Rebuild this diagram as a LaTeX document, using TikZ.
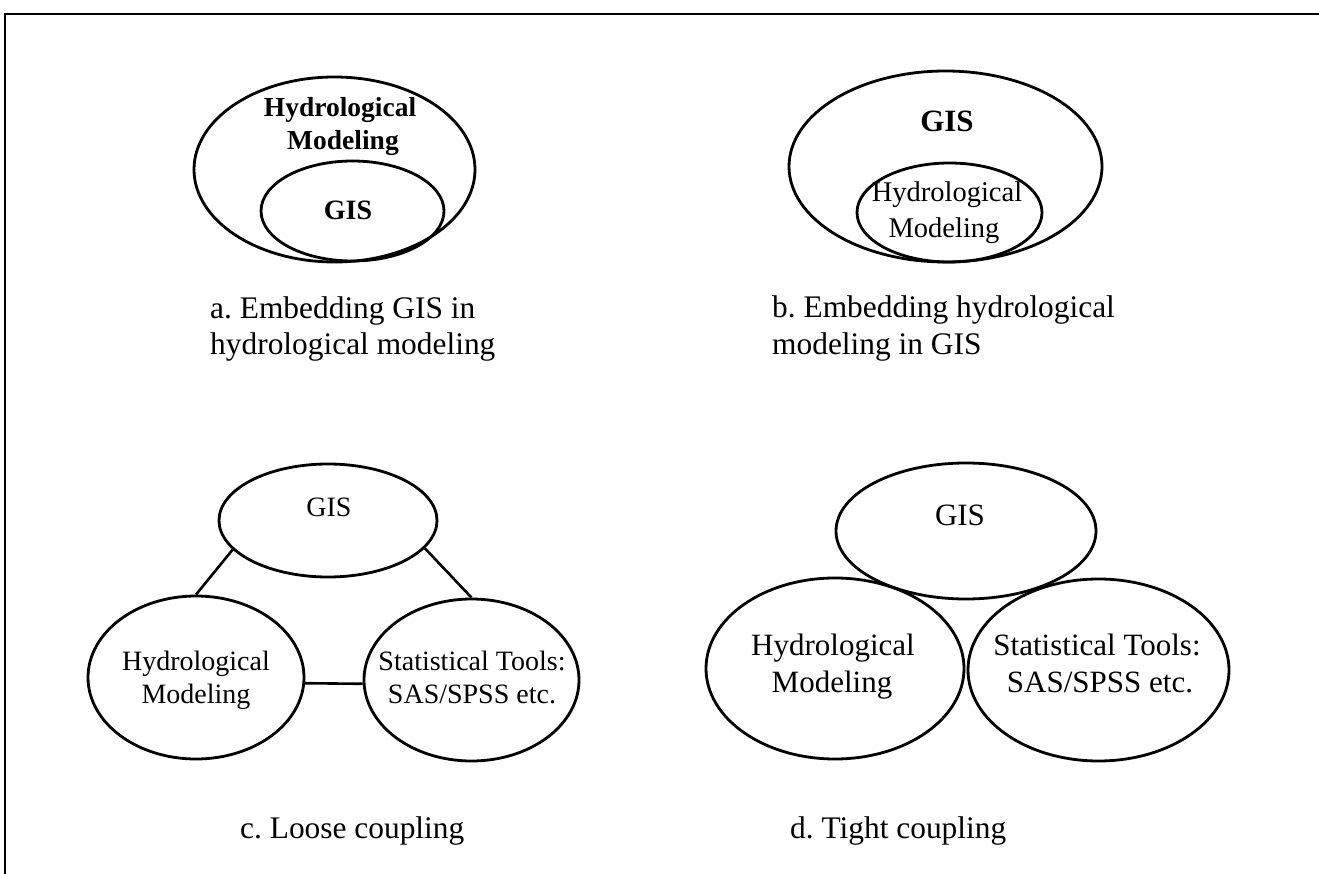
\documentclass[tikz,border=0pt]{standalone}
\usepackage{fontspec}
\setmainfont{Liberation Serif}
\usetikzlibrary{shapes.geometric}
\tikzset{
  ell/.style={draw, ellipse, line width=2.8pt, inner sep=0pt},
  txt/.style={font=\fontsize{28}{33}\selectfont, inner sep=0pt, anchor=base},
  bigtxt/.style={font=\fontsize{31}{36}\selectfont, inner sep=0pt, anchor=base},
  btxt/.style={font=\fontsize{27.5}{33}\selectfont\bfseries, inner sep=0pt, anchor=base},
  captext/.style={font=\fontsize{31.4}{36}\selectfont, inner sep=0pt, anchor=base west},
  link/.style={line width=2.6pt},
  frameline/.style={line width=2pt}
}
\begin{document}
\frenchspacing
\begin{tikzpicture}[x=1pt,y=-1pt]
\useasboundingbox[fill=white] (0,0) rectangle (1319,874);
% frame
\coordinate (fbl) at (5,874);
\coordinate (ftl) at (5,14);
\coordinate (ftr) at (1319,14);
\draw[frameline] (fbl) -- (ftl) -- (ftr);

% a
\node[ell, minimum width=281pt, minimum height=185pt] (aout) at (334.5,169.5) {};
\node[ell, minimum width=183pt, minimum height=100pt] (ain) at (352.5,211) {};
\node[btxt] (atxt1) at (340,117) {Hydrological};
\node[btxt] (atxt2) at (343,150) {Modeling};
\node[btxt, font=\fontsize{28}{33}\selectfont\bfseries] (agis) at (348,220) {GIS};
\node[captext] (acap1) at (210,319) {a. Embedding GIS in};
\node[captext] (acap2) at (210,354) {hydrological modeling};

% b
\node[ell, minimum width=313pt, minimum height=191pt] (bout) at (945.5,166.5) {};
\node[ell, minimum width=185pt, minimum height=99pt] (bin) at (949.5,212.5) {};
\node[btxt, font=\fontsize{31}{36}\selectfont\bfseries] (bgis) at (947,132) {GIS};
\node[txt, font=\fontsize{28.5}{33}\selectfont] (btxt1) at (947,202) {Hydrological};
\node[txt, font=\fontsize{28.5}{33}\selectfont] (btxt2) at (944,238) {Modeling};
\node[captext] (bcap1) at (772,318) {b. Embedding hydrological};
\node[captext] (bcap2) at (772,354) {modeling in GIS};

% c
\node[ell, minimum width=218pt, minimum height=113pt] (cgis) at (328,520.5) {};
\node[ell, minimum width=216pt, minimum height=163pt] (chyd) at (196,677.5) {};
\node[ell, minimum width=215pt, minimum height=162pt] (cstat) at (471.5,680) {};
\node[txt] (cgist) at (329,516) {GIS};
\node[txt] (chydt1) at (196,670) {Hydrological};
\node[txt] (chydt2) at (196,703) {Modeling};
\node[txt] (cstatt1) at (472,670) {Statistical Tools:};
\node[txt] (cstatt2) at (472,703) {SAS/SPSS etc.};
\draw[link] (cgis.197) -- (chyd.90);
\draw[link] (cgis.344) -- (cstat.90);
\draw[link] (chyd.357) -- (cstat.182);
\node[captext] (ccap) at (240,838) {c. Loose coupling};

% d
\node[ell, minimum width=260pt, minimum height=136pt] (dgis) at (966,531) {};
\node[ell, minimum width=258pt, minimum height=181pt] (dhyd) at (835,668.5) {};
\node[ell, minimum width=261pt, minimum height=182pt] (dstat) at (1098.5,670) {};
\node[txt, font=\fontsize{31}{36}\selectfont] (dgist) at (960,525) {GIS};
\node[bigtxt] (dhydt1) at (833,655) {Hydrological};
\node[bigtxt] (dhydt2) at (832,692) {Modeling};
\node[bigtxt] (dstatt1) at (1097,655) {Statistical Tools:};
\node[bigtxt] (dstatt2) at (1100,692) {SAS/SPSS etc.};
\node[captext] (dcap) at (790,838) {d. Tight coupling};
\end{tikzpicture}
\end{document}
